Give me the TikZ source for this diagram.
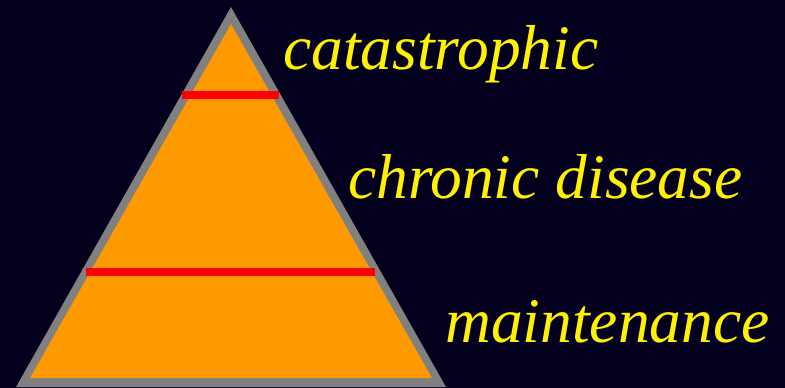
\documentclass[tikz,border=0pt]{standalone}
\usepackage{fontspec}
\setmainfont{Liberation Serif}
\definecolor{nightbg}{RGB}{3,0,30}
\definecolor{pyrorange}{RGB}{255,153,0}
\definecolor{pyrgray}{RGB}{128,128,128}
\tikzset{
  level/.style={anchor=base west,inner sep=0pt,text=yellow,font=\fontsize{63.5}{70}\selectfont\itshape},
  divider/.style={draw=red,line width=8pt}
}
\begin{document}
\begin{tikzpicture}[x=1pt,y=-1pt]
        \fill[nightbg] (0,0) rectangle (785,388);
        \useasboundingbox (0,0) rectangle (785,388);
        \fill[pyrgray] (16,387) -- (231,7) -- (446,387) -- cycle;
        \fill[pyrorange] (30,378) -- (231,24) -- (432,378) -- cycle;
        \draw[divider] (182,95) -- (279,95);
        \draw[divider] (86,271.5) -- (375,271.5);
        \node[level] (top) at (283,69) {catastrophic};
        \node[level] (mid) at (348,198) {chronic disease};
        \node[level] (low) at (445,342) {maintenance};
    \end{tikzpicture}
\end{document}
